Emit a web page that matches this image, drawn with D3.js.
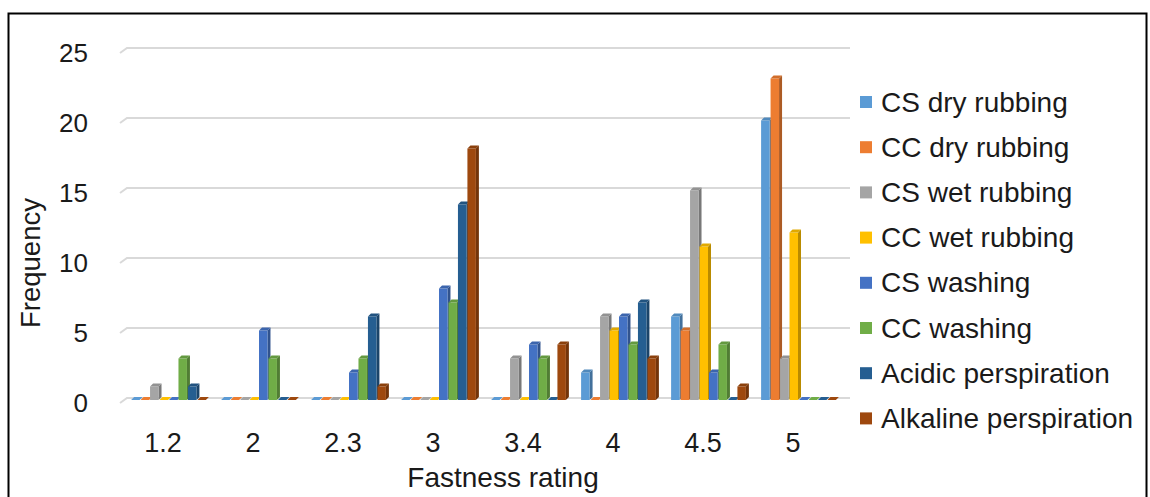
<!DOCTYPE html>
<html>
<head>
<meta charset="utf-8">
<script src="https://cdn.jsdelivr.net/npm/d3@7"></script>
<style>
  body { margin: 0; background: #fff; }
  text { font-family: "Liberation Sans", Arial, sans-serif; fill: #1a1a1a; }
</style>
</head>
<body>
<svg id="chart" width="1150" height="497"></svg>
<script>
// Fastness ratings (categories) and frequency counts per test series
const categories = ["1.2", "2", "2.3", "3", "3.4", "4", "4.5", "5"];
const seriesNames = [
  "CS dry rubbing", "CC dry rubbing", "CS wet rubbing", "CC wet rubbing",
  "CS washing", "CC washing", "Acidic perspiration", "Alkaline perspiration"
];
const csDryRubbing         = [0, 0, 0, 0, 0, 2, 6, 20];
const ccDryRubbing         = [0, 0, 0, 0, 0, 0, 5, 23];
const csWetRubbing         = [1, 0, 0, 0, 3, 6, 15, 3];
const ccWetRubbing         = [0, 0, 0, 0, 0, 5, 11, 12];
const csWashing            = [0, 5, 2, 8, 4, 6, 2, 0];
const ccWashing            = [3, 3, 3, 7, 3, 4, 4, 0];
const acidicPerspiration   = [1, 0, 6, 14, 0, 7, 0, 0];
const alkalinePerspiration = [0, 0, 1, 18, 4, 3, 1, 0];
const yTicks = [0, 5, 10, 15, 20, 25];

const seriesValues = [csDryRubbing, ccDryRubbing, csWetRubbing, ccWetRubbing,
  csWashing, ccWashing, acidicPerspiration, alkalinePerspiration];
const colors = ["#5B9BD5", "#ED7D31", "#A5A5A5", "#FFC000",
  "#4472C4", "#70AD47", "#255E91", "#9E480E"];

const svg = d3.select("#chart");

// outer frame
svg.append("rect")
  .attr("x", 8.5).attr("y", 13.5)
  .attr("width", 1138).attr("height", 520)
  .attr("fill", "none").attr("stroke", "#000").attr("stroke-width", 2);

const plotLeft = 120, plotRight = 840;
const x = d3.scaleBand().domain(categories).range([plotLeft, plotRight])
  .paddingInner(1.5 / 9.5).paddingOuter(0.75 / 9.5);
const xs = d3.scaleBand().domain(d3.range(seriesNames.length)).range([0, x.bandwidth()]);
const y = d3.scaleLinear().domain([0, 25]).range([398, 48]);

// 3D wall offsets
const wallDx = 7, wallDy = 5;
const barDx = 3, barDy = 3, barShift = 4;

// gridlines on the back wall, with the slanted side-wall lip
svg.append("g").selectAll("path").data(yTicks).join("path")
  .attr("d", d => `M${plotLeft},${y(d) + wallDy} L${plotLeft + wallDx},${y(d)} L${plotRight + 10},${y(d)}`)
  .attr("fill", "none").attr("stroke", "#d9d9d9").attr("stroke-width", 2);

// y axis labels
svg.append("g").selectAll("text").data(yTicks).join("text")
  .attr("x", 88).attr("y", d => y(d) + wallDy)
  .attr("text-anchor", "end").attr("dominant-baseline", "central")
  .attr("font-size", 26).text(d => d);

// x axis labels
svg.append("g").selectAll("text").data(categories).join("text")
  .attr("x", d => x(d) + x.bandwidth() / 2 - 4 + barShift / 2)
  .attr("y", 452)
  .attr("text-anchor", "middle").attr("font-size", 27).text(d => d);

// axis titles
svg.append("text").attr("x", 503).attr("y", 487)
  .attr("text-anchor", "middle").attr("font-size", 28).text("Fastness rating");
svg.append("text")
  .attr("transform", "translate(40,263) rotate(-90)")
  .attr("text-anchor", "middle").attr("font-size", 27.5).text("Frequency");

// bars (3D columns: front face, right side, top)
const base = y(0) + 2;
const bars = svg.append("g");
categories.forEach((cat, ci) => {
  seriesValues.forEach((vals, si) => {
    const v = vals[ci];
    const x0 = x(cat) + xs(si) + barShift;
    const fw = xs.bandwidth() - 1;
    const top = y(v) + 2.5;
    const c = d3.color(colors[si]);
    const side = c.darker(0.9).formatHex();
    const topC = c.darker(0.35).formatHex();
    const g = bars.append("g");
    if (v > 0) {
      g.append("path")
        .attr("d", `M${x0 + fw},${top} L${x0 + fw + barDx},${top - barDy} L${x0 + fw + barDx},${base - barDy} L${x0 + fw},${base} Z`)
        .attr("fill", side);
      g.append("rect")
        .attr("x", x0).attr("y", top).attr("width", fw).attr("height", base - top)
        .attr("fill", colors[si]);
    }
    g.append("path")
      .attr("d", `M${x0},${v > 0 ? top : base} L${x0 + barDx},${(v > 0 ? top : base) - barDy} L${x0 + fw + barDx},${(v > 0 ? top : base) - barDy} L${x0 + fw},${v > 0 ? top : base} Z`)
      .attr("fill", v > 0 ? topC : colors[si]);
  });
});

// legend
const legend = svg.append("g").selectAll("g").data(seriesNames).join("g")
  .attr("transform", (d, i) => `translate(860,${102 + i * 45.2})`);
legend.append("rect").attr("x", 0).attr("y", -6).attr("width", 12).attr("height", 12)
  .attr("fill", (d, i) => colors[i]);
legend.append("text").attr("x", 21).attr("y", 0)
  .attr("dominant-baseline", "central").attr("font-size", 28).text(d => d);
</script>
</body>
</html>
